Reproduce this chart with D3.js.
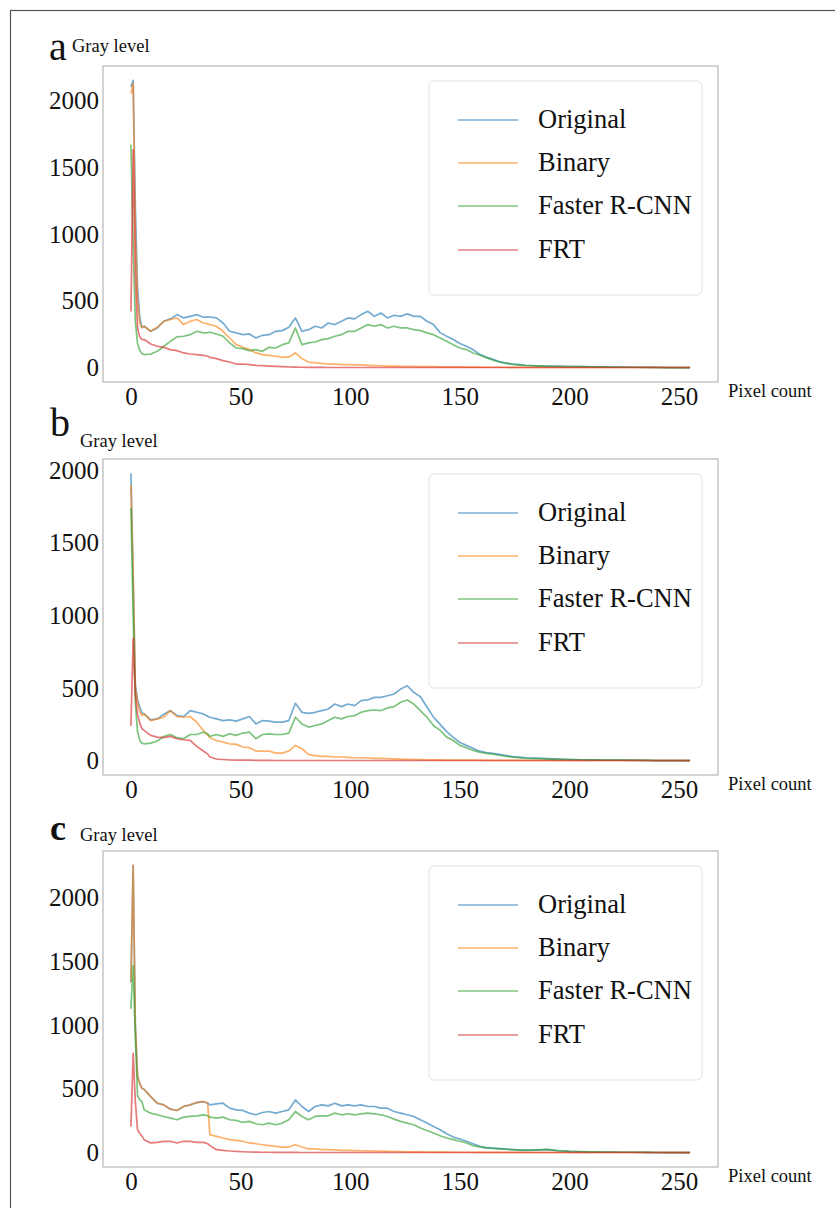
<!DOCTYPE html>
<html lang="en">
  <head>
    <meta charset="utf-8">
    <title>Gray level histograms</title>
    <script src="https://cdn.jsdelivr.net/npm/d3@7"></script>
    <style>
      body { margin: 0; background: #fff; }
      svg text { font-family: "Liberation Serif", "Times New Roman", serif; fill: #111; }
    </style>
  </head>
  <body>
    <div id="chart"></div>
  </body>
</html>

<script>

const grayLevels = [0, 1, 2, 3, 4, 5, 6,
  9, 12, 15, 18, 21, 24, 27, 30, 33, 35,
  36, 39, 42, 45, 48, 51, 54, 57, 60, 63,
  66, 69, 72, 75, 78, 81, 84, 87, 90, 93,
  96, 99, 102, 105, 108, 111, 114, 117, 120, 123,
  126, 129, 132, 135, 138, 141, 144, 147, 150, 153,
  156, 159, 162, 165, 168, 171, 174, 177, 180,
  185, 190, 195, 200, 205, 210, 215, 220, 225, 230, 235, 240, 245, 250, 255];

const seriesNames = ["Original", "Binary", "Faster R-CNN", "FRT"];
const colors = ["#1f77b4", "#ff7f0e", "#2ca02c", "#d62728"];
const xTicks = [0, 50, 100, 150, 200, 250];
const yTicks = [0, 500, 1000, 1500, 2000];

// panel a
const originalA = [2100, 2150, 1200, 600, 380, 300, 310,
  272, 297, 347, 365, 397, 372, 384, 397, 377, 380,
  379, 372, 334, 272, 260, 247, 252, 222, 242, 247,
  272, 277, 302, 372, 272, 284, 310, 297, 334, 322,
  347, 372, 365, 397, 422, 384, 409, 372, 392, 384,
  402, 384, 384, 347, 322, 262, 235, 210, 180, 160,
  135, 100, 80, 62, 45, 35, 27, 22, 18,
  14, 11, 9, 8, 7, 6, 5, 4, 4, 3, 3, 2, 0, 0, 0];
const binaryA = [2050, 2130, 1000, 500, 330, 300, 310,
  272, 302, 347, 360, 372, 322, 347, 360, 334, 328,
  322, 310, 272, 222, 172, 152, 135, 110, 97, 92,
  85, 77, 80, 110, 67, 42, 35, 32, 27, 27,
  22, 22, 20, 20, 17, 15, 14, 12, 12, 10,
  10, 9, 8, 8, 7, 6, 6, 5, 5, 4,
  4, 4, 3, 3, 3, 3, 2, 2, 2,
  2, 2, 2, 1, 1, 1, 1, 1, 1, 1, 1, 1, 1, 1, 0];
const fasterA = [1670, 900, 350, 180, 130, 105, 97,
  102, 122, 160, 197, 230, 235, 247, 272, 260, 262,
  265, 252, 235, 185, 147, 142, 127, 135, 122, 152,
  147, 172, 185, 297, 172, 185, 192, 210, 217, 235,
  247, 272, 272, 297, 322, 310, 322, 297, 310, 297,
  297, 284, 277, 260, 247, 222, 197, 172, 147, 135,
  110, 95, 75, 58, 42, 32, 25, 20, 16,
  13, 10, 9, 8, 7, 6, 5, 4, 3, 3, 2, 2, 0, 0, 0];
const frtA = [420, 1630, 700, 300, 230, 210, 210,
  177, 160, 152, 135, 127, 110, 102, 97, 92, 85,
  77, 67, 52, 42, 27, 27, 22, 17, 15, 12,
  10, 8, 5, 4, 3, 2, 2, 2, 1, 1,
  1, 1, 1, 1, 1, 1, 1, 1, 1, 1,
  1, 1, 1, 1, 1, 1, 1, 1, 1, 1,
  1, 1, 1, 1, 1, 1, 1, 1, 1,
  1, 1, 1, 1, 1, 1, 1, 1, 1, 1, 1, 1, 1, 1, 1];

// panel b
const originalB = [1979, 1250, 520, 420, 370, 330, 322,
  281, 288, 320, 345, 310, 304, 345, 333, 322, 305,
  299, 288, 276, 281, 272, 288, 304, 253, 276, 272,
  265, 265, 276, 395, 333, 326, 333, 345, 356, 390,
  372, 390, 379, 413, 418, 436, 436, 447, 459, 493,
  516, 470, 440, 370, 300, 250, 200, 160, 125, 105,
  85, 65, 56, 50, 43, 35, 28, 24, 20,
  17, 14, 11, 8, 6, 5, 4, 4, 3, 3, 2, 0, 0, 0, 0];
const binaryB = [1900, 1300, 500, 400, 340, 310, 322,
  276, 288, 300, 345, 304, 299, 304, 265, 208, 175,
  158, 139, 128, 116, 112, 94, 89, 66, 66, 66,
  52, 52, 66, 105, 82, 43, 34, 30, 30, 25,
  25, 23, 20, 20, 18, 16, 15, 14, 12, 10,
  9, 8, 7, 6, 5, 5, 4, 4, 3, 3,
  3, 3, 2, 2, 2, 2, 2, 2, 1,
  1, 1, 1, 1, 1, 1, 1, 1, 1, 1, 1, 1, 1, 1, 0];
const fasterB = [1740, 1000, 400, 200, 140, 120, 116,
  121, 135, 167, 180, 158, 151, 180, 180, 196, 185,
  167, 180, 167, 185, 174, 190, 196, 151, 180, 185,
  180, 180, 190, 299, 253, 231, 242, 253, 276, 299,
  288, 304, 310, 333, 345, 349, 345, 363, 372, 402,
  418, 390, 345, 299, 242, 208, 162, 139, 105, 89,
  71, 58, 50, 44, 37, 30, 24, 20, 16,
  13, 11, 9, 7, 6, 5, 4, 3, 3, 2, 2, 0, 0, 0, 0];
const frtB = [240, 840, 450, 320, 260, 220, 208,
  174, 162, 158, 167, 151, 144, 139, 98, 66, 45,
  25, 11, 8, 5, 4, 3, 3, 2, 2, 2,
  1, 1, 1, 1, 1, 1, 1, 1, 1, 1,
  1, 1, 1, 1, 1, 1, 1, 1, 1, 1,
  1, 1, 1, 1, 1, 1, 1, 1, 1, 1,
  1, 1, 1, 1, 1, 1, 1, 1, 1,
  1, 1, 1, 1, 1, 1, 1, 1, 1, 1, 1, 1, 1, 1, 1];

// panel c
const originalC = [1338, 2255, 1000, 600, 544, 505, 497,
  440, 388, 375, 341, 331, 362, 375, 393, 401, 388,
  375, 383, 388, 349, 336, 331, 310, 297, 315, 323,
  310, 323, 336, 414, 362, 323, 362, 375, 367, 388,
  367, 375, 367, 375, 362, 362, 349, 349, 323, 310,
  297, 284, 258, 232, 206, 180, 148, 122, 107, 89,
  70, 50, 40, 36, 31, 27, 23, 20, 18,
  20, 23, 15, 10, 7, 5, 4, 4, 3, 3, 2, 0, 0, 0, 0];
const binaryC = [1338, 2255, 1000, 600, 544, 505, 497,
  440, 388, 375, 341, 331, 362, 375, 393, 401, 388,
  141, 128, 115, 102, 96, 89, 76, 70, 62, 55,
  49, 44, 44, 62, 44, 29, 29, 23, 23, 21,
  18, 18, 16, 15, 14, 13, 12, 10, 9, 8,
  7, 6, 6, 5, 5, 4, 4, 3, 3, 3,
  3, 2, 2, 2, 2, 2, 2, 2, 1,
  1, 1, 1, 1, 1, 1, 1, 1, 1, 1, 1, 1, 1, 1, 0];
const fasterC = [1130, 1469, 900, 450, 414, 401, 336,
  310, 297, 284, 271, 258, 279, 284, 289, 297, 290,
  279, 271, 279, 258, 253, 237, 245, 227, 219, 232,
  219, 232, 258, 323, 284, 258, 284, 289, 289, 310,
  297, 305, 297, 305, 310, 305, 297, 284, 263, 245,
  232, 219, 193, 174, 154, 133, 115, 102, 89, 76,
  55, 45, 38, 33, 30, 27, 24, 22, 20,
  22, 25, 15, 10, 8, 6, 5, 4, 3, 3, 2, 1, 0, 0, 0];
const frtC = [205, 779, 400, 180, 150, 130, 102,
  76, 81, 89, 89, 76, 89, 89, 81, 81, 70,
  55, 23, 18, 13, 10, 7, 5, 4, 3, 3,
  2, 2, 2, 2, 1, 1, 1, 1, 1, 1,
  1, 1, 1, 1, 1, 1, 1, 1, 1, 1,
  1, 1, 1, 1, 1, 1, 1, 1, 1, 1,
  1, 1, 1, 1, 1, 1, 1, 1, 1,
  1, 1, 1, 1, 1, 1, 1, 1, 1, 1, 1, 1, 1, 1, 1];

const panels = [
  { letter: "a", size: 40, weight: "normal", top: 66, letterY: 60, grayX: 72, grayY: 52, series: [originalA, binaryA, fasterA, frtA] },
  { letter: "b", size: 40, weight: "normal", top: 459, letterY: 436, grayX: 80, grayY: 447, series: [originalB, binaryB, fasterB, frtB] },
  { letter: "c", size: 36, weight: "bold", top: 851, letterY: 840, grayX: 80, grayY: 841, series: [originalC, binaryC, fasterC, frtC] }
];

const serif = '"Liberation Serif", "Times New Roman", serif';
const width = 835;
const height = 1208;
const frameLeft = 103;
const frameRight = 718;
const frameHeight = 316;
const legendRows = [54, 97, 140, 184];

const svg = d3.select("#chart")
  .append("svg")
  .attr("width", width)
  .attr("height", height);

svg.append("rect")
  .attr("x", 10.5)
  .attr("y", 10.5)
  .attr("width", width)
  .attr("height", height)
  .style("fill", "none")
  .style("stroke", "#555")
  .style("stroke-width", 1.2);

// matplotlib style 5% margins
const x = d3.scaleLinear()
  .domain([-0.05 * 255, 255 * 1.05])
  .range([frameLeft, frameRight]);

panels.forEach(p => {
  const bottom = p.top + frameHeight;
  const maxV = d3.max(p.series, s => d3.max(s));
  const pad = maxV * 0.05;

  const y = d3.scaleLinear()
    .domain([-pad, maxV + pad])
    .range([bottom, p.top]);

  const g = svg.append("g");

  g.append("text")
    .attr("x", p.letter == "a" ? 49 : 50)
    .attr("y", p.letterY)
    .style("font-size", p.size + "px")
    .style("font-weight", p.weight)
    .text(p.letter);

  g.append("text")
    .attr("x", p.grayX)
    .attr("y", p.grayY)
    .style("font-size", "18.5px")
    .text("Gray level");

  g.append("text")
    .attr("x", 728)
    .attr("y", bottom + 15)
    .style("font-size", "18.5px")
    .text("Pixel count");

  const line = d3.line()
    .x((d, i) => x(grayLevels[i]))
    .y(d => y(d));

  g.selectAll(".series")
    .data(p.series)
    .join("path")
    .attr("class", "series")
    .attr("d", line)
    .style("fill", "none")
    .style("stroke", (d, i) => colors[i])
    .style("stroke-opacity", 0.62)
    .style("stroke-width", 1.7)
    .style("stroke-linejoin", "round");

  g.append("rect")
    .attr("x", frameLeft)
    .attr("y", p.top)
    .attr("width", frameRight - frameLeft)
    .attr("height", frameHeight)
    .style("fill", "none")
    .style("stroke", "#bcbcbc")
    .style("stroke-width", 1.3);

  const yAxis = g.append("g")
    .attr("transform", `translate(${frameLeft},0)`)
    .call(d3.axisLeft(y).tickValues(yTicks).tickFormat(d3.format("d")).tickSize(0).tickPadding(4));

  const xAxis = g.append("g")
    .attr("transform", `translate(0,${bottom})`)
    .call(d3.axisBottom(x).tickValues(xTicks).tickFormat(d3.format("d")).tickSize(0).tickPadding(5));

  [yAxis, xAxis].forEach(a => {
    a.select(".domain").remove();
    a.attr("font-family", serif).attr("font-size", 25);
    a.selectAll("text")
      .style("font-family", serif)
      .style("font-size", "25px")
      .style("fill", "#111");
  });

  const legend = g.append("g");

  legend.append("rect")
    .attr("x", 429)
    .attr("y", p.top + 15)
    .attr("width", 273)
    .attr("height", 214)
    .attr("rx", 5)
    .style("fill", "#fff")
    .style("fill-opacity", 0.8)
    .style("stroke", "#e2e2e2")
    .style("stroke-width", 1);

  const rows = legend.selectAll(".row")
    .data(seriesNames)
    .join("g")
    .attr("class", "row")
    .attr("transform", (d, i) => `translate(0,${p.top + legendRows[i]})`);

  rows.append("line")
    .attr("x1", 458)
    .attr("x2", 518)
    .style("stroke", (d, i) => colors[i])
    .style("stroke-opacity", 0.6)
    .style("stroke-width", 1.6);

  rows.append("text")
    .attr("x", 538)
    .attr("y", 8)
    .style("font-size", "26.5px")
    .text(d => d);
});

</script>
